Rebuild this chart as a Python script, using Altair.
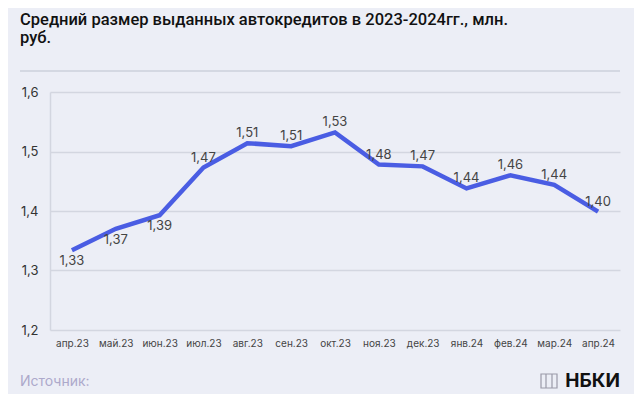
import altair as alt
import pandas as pd

months = ["апр.23", "май.23", "июн.23", "июл.23", "авг.23", "сен.23", "окт.23",
          "ноя.23", "дек.23", "янв.24", "фев.24", "мар.24", "апр.24"]
values = [1.334, 1.370, 1.393, 1.473, 1.514, 1.509, 1.532,
          1.478, 1.475, 1.438, 1.460, 1.444, 1.399]
labels = ["1,33", "1,37", "1,39", "1,47", "1,51", "1,51", "1,53",
          "1,48", "1,47", "1,44", "1,46", "1,44", "1,40"]
placement = ["below", "below", "below", "above", "above", "above", "above",
             "above", "above", "above", "above", "above", "above"]
y_ticks = [1.2, 1.3, 1.4, 1.5, 1.6]

title_lines = ["Средний размер выданных автокредитов в 2023-2024гг., млн.", "руб."]
source_text = "Источник:"
brand_text = "НБКИ"

df = pd.DataFrame({"month": months, "value": values, "label": labels, "pos": placement})

BG = "#ECEEF6"
LINE = "#4A5DE3"
FONT = "Inter"

x = alt.X("month:N", sort=months, scale=alt.Scale(paddingInner=0, paddingOuter=0),
          axis=alt.Axis(title=None, labelAngle=0, labelFontSize=10, labelColor="#444444",
                        labelFont=FONT, ticks=False, domain=False, labelPadding=8, grid=False))
y = alt.Y("value:Q", scale=alt.Scale(domain=[1.2, 1.6], nice=False, zero=False),
          axis=alt.Axis(title=None, values=y_ticks, labelExpr="replace(format(datum.value, '.1f'), '.', ',')",
                        labelFontSize=13, labelColor="#333333", labelFont=FONT, labelPadding=12,
                        ticks=False, domain=True, domainColor="#D3D6E0", domainWidth=1.5,
                        grid=True, gridColor="#D3D6E0", gridWidth=1.5))

base = alt.Chart(df)

line = base.mark_line(color=LINE, strokeWidth=4.5, strokeJoin="miter").encode(x=x, y=y)

lab_above = base.transform_filter(alt.datum.pos == "above").mark_text(
    dy=-10, fontSize=13, color="#444444", font=FONT).encode(x=x, y=y, text="label:N")
lab_below = base.transform_filter(alt.datum.pos == "below").mark_text(
    dy=11, fontSize=13, color="#444444", font=FONT).encode(x=x, y=y, text="label:N")

top_rule = alt.Chart(pd.DataFrame({"a": [0]})).mark_rule(color="#CDD0DB", strokeWidth=1.5).encode(
    x=alt.value(-30), x2=alt.value(570), y=alt.value(-21))

title1 = alt.Chart(pd.DataFrame({"t": [title_lines[0]]})).mark_text(
    align="left", baseline="middle", fontSize=16.5, fontWeight=500, font="Roboto", color="#111111").encode(
    x=alt.value(-30), y=alt.value(-72), text="t:N")
title2 = alt.Chart(pd.DataFrame({"t": [title_lines[1]]})).mark_text(
    align="left", baseline="middle", fontSize=16.5, fontWeight=500, font="Roboto", color="#111111").encode(
    x=alt.value(-30), y=alt.value(-54), text="t:N")

source = alt.Chart(pd.DataFrame({"t": [source_text]})).mark_text(
    align="left", baseline="middle", fontSize=14, font=FONT, color="#ADA9CB").encode(
    x=alt.value(-30), y=alt.value(290), text="t:N")
brand = alt.Chart(pd.DataFrame({"t": [brand_text]})).mark_text(
    align="right", baseline="middle", fontSize=19, fontWeight=700, font=FONT, color="#111111").encode(
    x=alt.value(570), y=alt.value(289), text="t:N")

logo_box = alt.Chart(pd.DataFrame({"a": [0]})).mark_rect(
    fill="none", stroke="#9A9AA8", strokeWidth=1.2).encode(
    x=alt.value(491), x2=alt.value(507), y=alt.value(282), y2=alt.value(296))
logo_l1 = alt.Chart(pd.DataFrame({"a": [0]})).mark_rule(color="#9A9AA8", strokeWidth=1.2).encode(
    x=alt.value(496), y=alt.value(282), y2=alt.value(296))
logo_l2 = alt.Chart(pd.DataFrame({"a": [0]})).mark_rule(color="#9A9AA8", strokeWidth=1.2).encode(
    x=alt.value(502), y=alt.value(282), y2=alt.value(296))

chart = alt.layer(top_rule, line, lab_above, lab_below, title1, title2, source, brand,
                  logo_box, logo_l1, logo_l2).properties(
    width=570, height=238,
    autosize=alt.AutoSizeParams(type="none"),
    padding={"left": 42, "top": 84, "right": 14, "bottom": 64},
    background=BG,
).configure_view(stroke=None)

chart.save("out.html", embed_options={"renderer": "svg", "actions": False})
